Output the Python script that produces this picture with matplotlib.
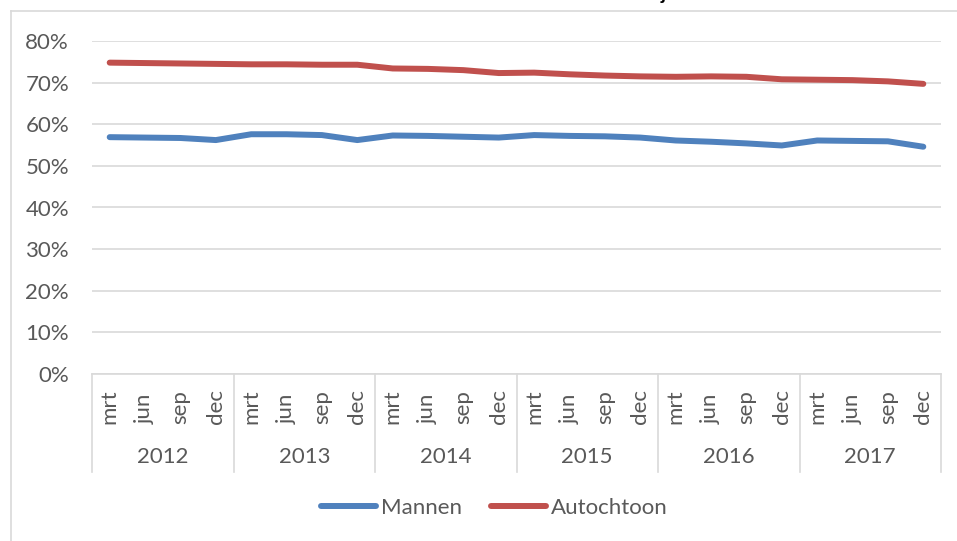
import matplotlib.pyplot as plt
from matplotlib.transforms import blended_transform_factory
from matplotlib.lines import Line2D

plt.rcParams['font.family'] = ['Lato', 'DejaVu Sans']

years = ['2012', '2013', '2014', '2015', '2016', '2017']
months = ['mrt', 'jun', 'sep', 'dec']

# share in %, per quarter 2012 mrt .. 2017 dec
mannen = [56.9, 56.8, 56.7, 56.2, 57.6, 57.6, 57.4, 56.2,
          57.3, 57.2, 57.0, 56.8, 57.4, 57.2, 57.1, 56.8,
          56.1, 55.8, 55.4, 54.9, 56.1, 56.0, 55.9, 54.6]
autochtoon = [74.8, 74.7, 74.6, 74.5, 74.4, 74.4, 74.3, 74.3,
              73.4, 73.3, 73.0, 72.3, 72.4, 72.0, 71.7, 71.5,
              71.4, 71.5, 71.4, 70.8, 70.7, 70.6, 70.3, 69.7]

W, H = 957, 541
txt = '#595959'
grid = '#D9D9D9'
fs = 16

fig = plt.figure(figsize=(W / 100, H / 100), dpi=100)

# outer chart frame (cut off at right/bottom)
fig.add_artist(Line2D([11 / W, 11 / W], [0, 1 - 11 / H], color=grid, lw=1.2))
fig.add_artist(Line2D([11 / W, 1], [1 - 11 / H, 1 - 11 / H], color=grid, lw=1.2))

# tail of the (clipped) title
fig.text(663 / W, 1.0, 'j', fontsize=14, fontweight='bold', ha='center', va='baseline')

left, right, top, bottom = 92, 941, 41, 374
ax = fig.add_axes([left / W, 1 - bottom / H, (right - left) / W, (bottom - top) / H])

n = len(mannen)
x = [i + 0.5 for i in range(n)]
ax.plot(x, mannen, color='#4F81BD', lw=4.3, solid_capstyle='round', label='Mannen')
ax.plot(x, autochtoon, color='#C0504D', lw=4.3, solid_capstyle='round', label='Autochtoon')

ax.set_xlim(0, n)
ax.set_ylim(0, 80)
ax.set_yticks(range(0, 81, 10))
ax.set_yticklabels([f'{v}%' for v in range(0, 81, 10)], fontsize=fs, color=txt)
ax.tick_params(axis='y', length=0, pad=16.5)
ax.set_xticks([])
ax.grid(axis='y', color=grid, lw=1.2)
ax.set_axisbelow(True)
for s in ['top', 'right', 'left']:
    ax.spines[s].set_visible(False)
ax.spines['bottom'].set_color(grid)
ax.spines['bottom'].set_linewidth(1.2)

# multi-level category axis
ph = bottom - top
tr = blended_transform_factory(ax.transData, ax.transAxes)
for k in range(len(years) + 1):
    ax.add_artist(Line2D([k * 4, k * 4], [0, -(472 - bottom) / ph], transform=tr,
                         color=grid, lw=1.2, clip_on=False))
for i in range(n):
    ax.text(i + 0.5, -(424 - bottom) / ph, months[i % 4], transform=tr, rotation=90,
            ha='center', va='bottom', fontsize=fs, color=txt)
for k, yr in enumerate(years):
    ax.text(k * 4 + 2, -(457 - bottom) / ph, yr, transform=tr,
            ha='center', va='center', fontsize=fs, color=txt)

leg = fig.legend(loc='center', bbox_to_anchor=(494 / W, 1 - 508 / H), ncol=2, frameon=False,
                 fontsize=fs, handlelength=2.5, handletextpad=0.2, columnspacing=1.3)
for t in leg.get_texts():
    t.set_color(txt)

fig.savefig('out.png', dpi=100)
